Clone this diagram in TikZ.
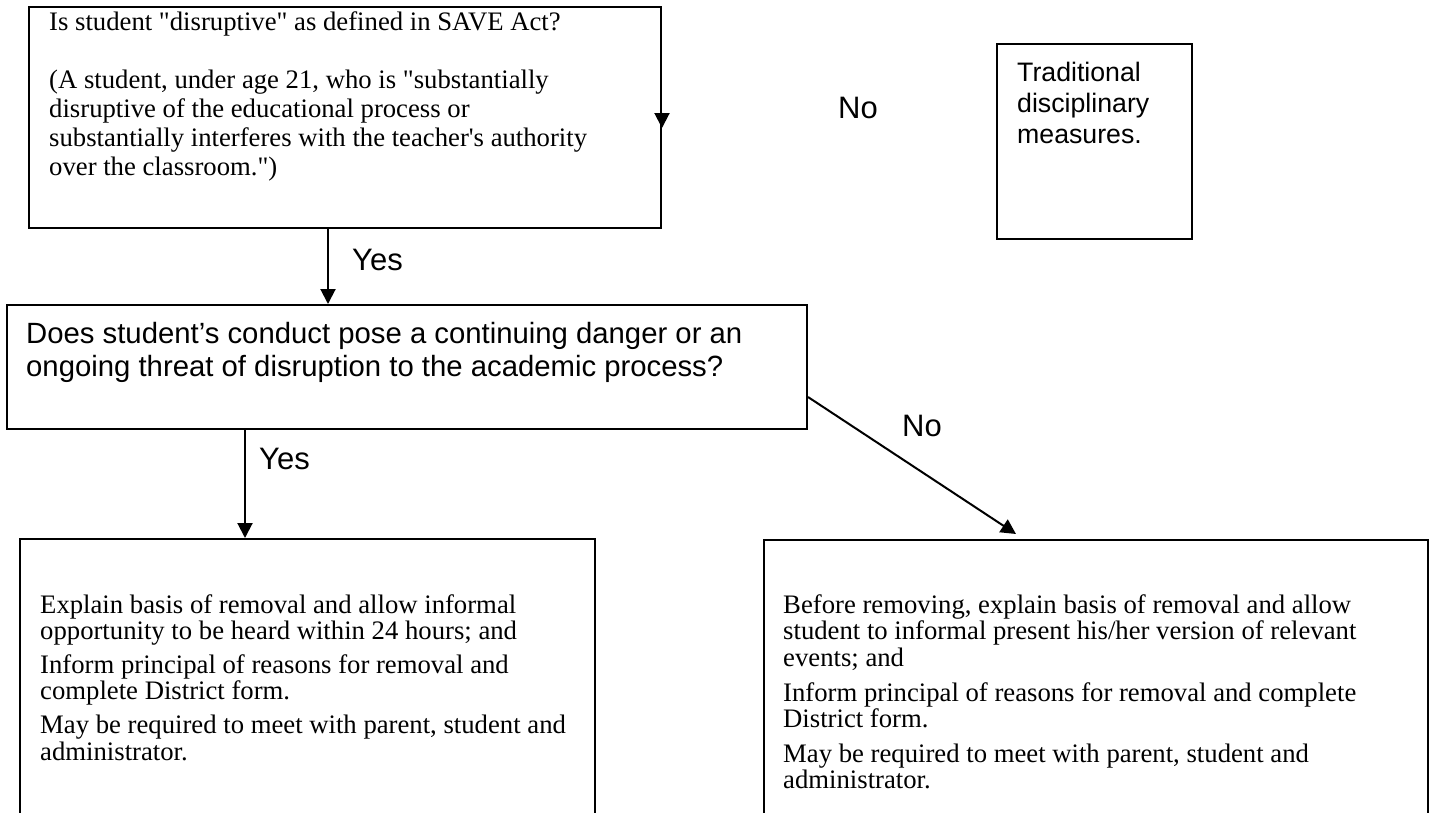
\documentclass[tikz,border=0pt]{standalone}
\usepackage{fontspec}
\newfontfamily\tnr{Liberation Serif}
\newfontfamily\arl{Liberation Sans}
\usetikzlibrary{arrows.meta}
\begin{document}
\begin{tikzpicture}[x=1pt,y=-1pt,
  box/.style={draw, line width=2pt, inner sep=0pt, anchor=north west},
  txt/.style={inner sep=0pt, anchor=base west},
  conn/.style={draw, line width=2pt, -{Triangle[length=15pt,width=15pt]}},
  lbl/.style={inner sep=0pt, anchor=base west, font=\arl\fontsize{31}{35}\selectfont}]
\useasboundingbox (0,0) rectangle (1431,812);
\clip (0,0) rectangle (1431,812);

% boxes
\node[box, minimum width=632pt, minimum height=221pt] (q1) at (28,6) {};
\node[box, minimum width=195pt, minimum height=195pt] (trad) at (996,43) {};
\node[box, minimum width=800pt, minimum height=124pt] (q2) at (6,304) {};
\node[box, minimum width=575pt, minimum height=290pt] (r1) at (19,538) {};
\node[box, minimum width=664pt, minimum height=290pt] (r2) at (763,539) {};

% texts
\node[txt, font=\tnr\fontsize{26.7}{29}\selectfont] (q1t) at (49,30)
  {\begin{tabular}[t]{@{}l@{}}Is student "disruptive" as defined in SAVE Act?\\[29pt]
   (A student, under age 21, who is "substantially\\
   disruptive of the educational process or\\
   substantially interferes with the teacher's authority\\
   over the classroom.")\end{tabular}};
\node[txt, font=\arl\fontsize{26.7}{31}\selectfont] (tradt) at (1017,81)
  {\begin{tabular}[t]{@{}l@{}}Traditional\\ disciplinary\\ measures.\end{tabular}};
\node[txt, font=\arl\fontsize{29.3}{33}\selectfont] (q2t) at (26,343)
  {\begin{tabular}[t]{@{}l@{}}Does student’s conduct pose a continuing danger or an\\
   ongoing threat of disruption to the academic process?\end{tabular}};
\node[txt, font=\tnr\fontsize{26.7}{26.8}\selectfont] (r1t) at (40,613)
  {\begin{tabular}[t]{@{}l@{}}Explain basis of removal and allow informal\\
   opportunity to be heard within 24 hours; and\\[6.5pt]
   Inform principal of reasons for removal and\\
   complete District form.\\[6.5pt]
   May be required to meet with parent, student and\\
   administrator.\end{tabular}};
\node[txt, font=\tnr\fontsize{26.7}{26.5}\selectfont] (r2t) at (783,613)
  {\begin{tabular}[t]{@{}l@{}}Before removing, explain basis of removal and allow\\
   student to informal present his/her version of relevant\\
   events; and\\[8pt]
   Inform principal of reasons for removal and complete\\
   District form.\\[8pt]
   May be required to meet with parent, student and\\
   administrator.\end{tabular}};

% labels
\node[lbl] (yes1) at (352,270) {Yes};
\node[lbl] (yes2) at (259,469) {Yes};
\node[lbl] (no1) at (838,118) {No};
\node[lbl] (no2) at (902,436) {No};

% connectors
\path ([xshift=-17pt]q1.south) coordinate (y1s);
\draw[conn] (y1s) -- (y1s |- q2.north);
\path ([xshift=-162pt]q2.south) coordinate (y2s);
\draw[conn] (y2s) -- (y2s |- r1.north);
\draw[conn] ([yshift=-30pt]q2.east) -- ([xshift=-80pt,yshift=5pt]r2.north);
\draw[conn] ([yshift=5pt]q1.east) -- ([yshift=-10.5pt]q1.east);
\end{tikzpicture}
\end{document}
